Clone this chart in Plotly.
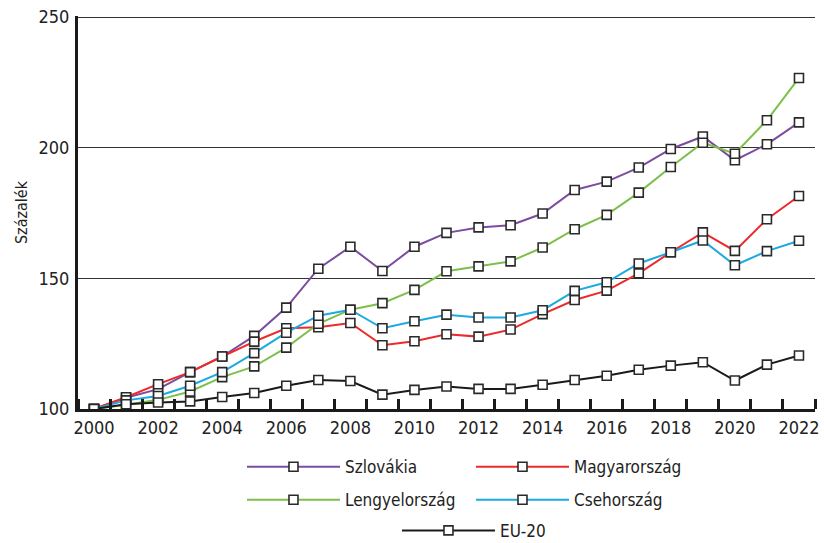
import plotly.graph_objects as go

years = list(range(2000, 2023))

szlovakia = [100, 104.3, 107.6, 114.1, 120.1, 128.0, 138.8, 153.7, 162.1, 152.8, 162.1, 167.4,
             169.5, 170.3, 174.8, 183.8, 187.0, 192.4, 199.5, 204.3, 195.2, 201.3, 209.7]
magyarorszag = [100, 104.5, 109.5, 114.1, 120.1, 125.8, 130.9, 131.3, 132.9, 124.4, 125.9, 128.6,
                127.7, 130.4, 136.3, 141.7, 145.3, 151.9, 160.0, 167.6, 160.5, 172.6, 181.5]
lengyelorszag = [100, 101.6, 103.5, 106.7, 112.2, 116.3, 123.5, 132.6, 138.0, 140.5, 145.6, 152.7,
                 154.6, 156.5, 161.8, 168.8, 174.3, 182.8, 192.6, 201.9, 197.7, 210.5, 226.7]
csehorszag = [100, 103.3, 105.0, 108.9, 114.1, 121.4, 129.2, 135.7, 138.0, 130.9, 133.6, 136.1,
              135.0, 135.0, 137.8, 145.2, 148.5, 155.7, 160.0, 164.5, 155.0, 160.4, 164.4]
eu20 = [100, 101.8, 102.5, 102.9, 104.6, 106.1, 108.9, 111.1, 110.7, 105.5, 107.3, 108.6,
        107.7, 107.7, 109.3, 111.1, 112.7, 115.0, 116.6, 117.9, 110.9, 117.0, 120.5]

series_names = ["Szlovákia", "Magyarország", "Lengyelország", "Csehország", "EU-20"]
series_values = [szlovakia, magyarorszag, lengyelorszag, csehorszag, eu20]
series_colors = ["#7B4C9F", "#EC2A2B", "#7CBF4B", "#1DA9E1", "#1A1A1A"]
series_legend = ["legend", "legend", "legend2", "legend2", "legend3"]

y_ticks = [100, 150, 200, 250]
x_ticks = list(range(2000, 2023, 2))

FONT = "Liberation Sans Narrow, DejaVu Sans Condensed, Arial Narrow, sans-serif"

fig = go.Figure()
for name, vals, col, lg in zip(series_names, series_values, series_colors, series_legend):
    fig.add_trace(go.Scatter(
        x=years, y=vals, name=name, mode="lines+markers",
        line=dict(color=col, width=2),
        marker=dict(symbol="square", size=9, color="white",
                    line=dict(color="#2a2a2a", width=1.6)),
        legend=lg,
    ))

legend_common = dict(orientation="h", font=dict(family=FONT, size=17, color="#222"),
                     bgcolor="rgba(0,0,0,0)", yanchor="middle", xanchor="left",
                     entrywidth=121, entrywidthmode="pixels", itemwidth=93)

fig.update_layout(
    width=824, height=543,
    margin=dict(l=78, r=9, t=16, b=134, autoexpand=False),
    plot_bgcolor="white", paper_bgcolor="white",
    font=dict(family=FONT, size=17, color="#222"),
    showlegend=True,
    legend=dict(x=0.2225, y=-0.148, **legend_common),
    legend2=dict(x=0.2225, y=-0.232, **legend_common),
    legend3=dict(x=0.4328, y=-0.310, **legend_common),
    xaxis=dict(
        range=[1999.5, 2022.5], tickvals=x_ticks, ticktext=[str(v) for v in x_ticks],
        ticks="", showgrid=False, zeroline=False, ticklabelstandoff=0,
        showline=True, linecolor="#1a1a1a", linewidth=3,
        minor=dict(tick0=2000.5, dtick=1, ticks="inside", ticklen=10,
                   tickwidth=3, tickcolor="#1a1a1a", showgrid=False),
        tickfont=dict(family=FONT, size=18, color="#222"),
    ),
    yaxis=dict(
        range=[100, 250.4], tickvals=y_ticks, ticks="", showgrid=True,
        gridcolor="#333", gridwidth=1, zeroline=False, ticklabelstandoff=2,
        showline=True, linecolor="#1a1a1a", linewidth=3,
        tickfont=dict(family=FONT, size=18, color="#222"),
        title=dict(text="Százalék", font=dict(family=FONT, size=16, color="#222"), standoff=7),
    ),
)

fig.write_html("out.html", config={"displayModeBar": False},
               post_script="document.body.style.margin='0';document.body.style.overflow='hidden';")
